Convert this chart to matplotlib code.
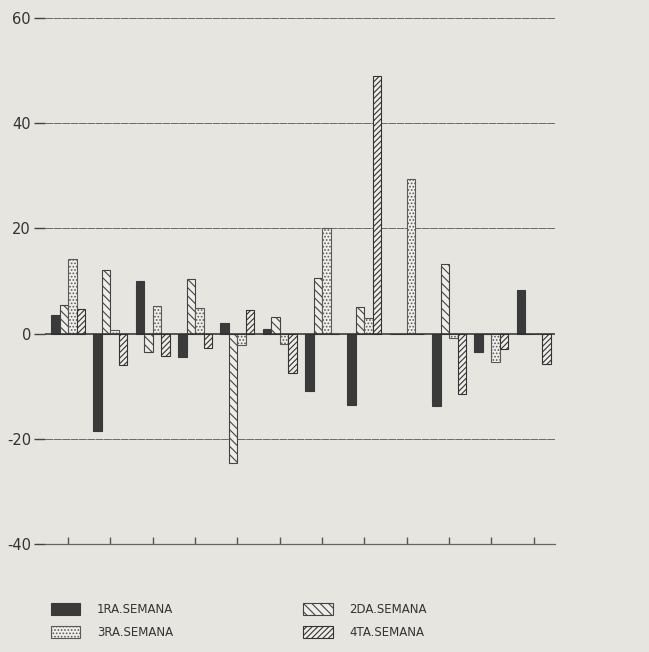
import numpy as np
import matplotlib
matplotlib.use("Agg")
import matplotlib.pyplot as plt
from matplotlib.patches import Patch

# weekly variation per product (12 groups)
groups = list(range(12))
semana_1 = [3.5, -18.5, 10.0, -4.5, 2.0, 0.8, -11.0, -13.5, 0.0, -13.8, -3.5, 8.2]
semana_2 = [5.4, 12.1, -3.5, 10.4, -24.7, 3.2, 10.5, 5.0, 0.0, 13.3, 0.0, 0.0]
semana_3 = [14.2, 0.6, 5.2, 4.9, -2.1, -1.9, 20.0, 3.0, 29.5, -0.8, -5.4, 0.0]
semana_4 = [4.7, -6.0, -4.3, -2.8, 4.5, -7.5, 0.0, 49.0, 0.0, -11.5, -2.9, -5.7]
labels = ["1RA.SEMANA", "2DA.SEMANA", "3RA.SEMANA", "4TA.SEMANA"]
y_ticks = [-40, -20, 0, 20, 40, 60]

bg = "#e7e5e0"
ink = "#3a3a3a"
plt.rcParams["axes.unicode_minus"] = False
plt.rcParams["hatch.linewidth"] = 0.8

styles = [
    dict(facecolor=ink, edgecolor=ink, hatch=None),
    dict(facecolor="#eeede9", edgecolor="#444444", hatch="\\\\\\\\"),
    dict(facecolor="#efeeea", edgecolor="#5a5a5a", hatch="....."),
    dict(facecolor="#eeede9", edgecolor="#333333", hatch="//////"),
]

fig = plt.figure(figsize=(6.49, 6.52), dpi=100, facecolor=bg)
ax = fig.add_axes([0.069, 0.166, 0.786, 0.806])
ax.set_facecolor(bg)

x = np.array(groups)
width = 0.2
series = [semana_1, semana_2, semana_3, semana_4]
for i, (vals, st) in enumerate(zip(series, styles)):
    ax.bar(x + (i - 1.5) * width, vals, width, linewidth=0.8, zorder=3, **st)

# grid lines and zero line
for yv in [20, 40, 60, -20]:
    ax.axhline(yv, color="#6a6a6a", linewidth=0.7, linestyle=(0, (8, 0.6)), zorder=1)
ax.axhline(0, color="#2e2e2e", linewidth=1.1, zorder=4)

ax.set_xlim(-0.55, 11.5)
ax.set_ylim(-40, 60)
ax.set_yticks(y_ticks)
ax.set_xticks(x)
ax.set_xticklabels([])
ax.tick_params(axis="y", length=8, width=1, color="#444444", pad=2,
               labelsize=10.5, labelcolor="#333333")
ax.tick_params(axis="x", direction="in", length=5, width=1, color="#555555")
for side in ["left", "right", "top"]:
    ax.spines[side].set_visible(False)
ax.spines["bottom"].set_color("#666666")
ax.spines["bottom"].set_linewidth(0.9)

order = [0, 2, 1, 3]
handles = [Patch(linewidth=0.8, **styles[k]) for k in order]
leg = fig.legend(handles, [labels[k] for k in order], loc="upper left",
                 bbox_to_anchor=(0.062, 1 - 592 / 652), ncol=2, frameon=False,
                 fontsize=8.5, handlelength=2.5, handleheight=1.2, handletextpad=1.4,
                 columnspacing=11.0, labelspacing=0.85, bbox_transform=fig.transFigure)
for t in leg.get_texts():
    t.set_color("#333333")

fig.savefig("out.png", dpi=100, facecolor=bg)
